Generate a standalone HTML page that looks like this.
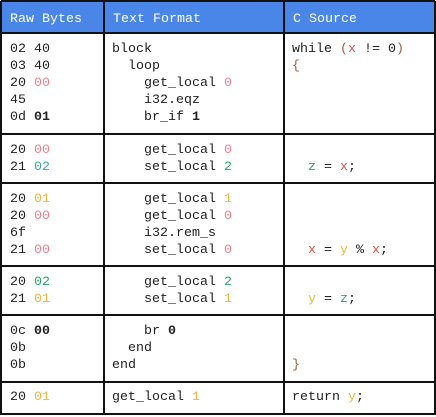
<!DOCTYPE html>
<html><head><style>
body{margin:0;width:436px;height:417px;background:#fff;position:relative;overflow:hidden;font-family:"Liberation Mono",monospace;font-size:13.33px;color:#222}
.h{position:absolute;left:1px;top:1px;width:434px;height:32px;background:#4a86e8}
.hl{position:absolute;left:1px;width:434px;height:2px;background:#111}
.vl{position:absolute;top:1px;width:2px;height:414px;background:#111}
.t{position:absolute;line-height:17px;white-space:pre}
.w{color:#fff}
.r{color:#e0524a}.p{color:#ee7f8f}.o{color:#f3b53a}.g{color:#2aa56e}.c{color:#3aa9a0}.b{font-weight:bold}.u{color:#a0603a}
</style></head><body>
<div class="h"></div>
<div class="hl" style="top:0"></div>
<div class="hl" style="top:32px"></div>
<div class="hl" style="top:133px"></div>
<div class="hl" style="top:182px"></div>
<div class="hl" style="top:265px"></div>
<div class="hl" style="top:314px"></div>
<div class="hl" style="top:381px"></div>
<div class="hl" style="top:413px"></div>
<div class="vl" style="left:0"></div>
<div class="vl" style="left:103px"></div>
<div class="vl" style="left:283px"></div>
<div class="vl" style="left:434px"></div>

<div class="t w" style="left:10px;top:11px">Raw Bytes</div>
<div class="t w" style="left:113px;top:11px">Text Format</div>
<div class="t w" style="left:293px;top:11px">C Source</div>

<div class="t" style="left:10px;top:41px">02 40
03 40
20 <span class="p">00</span>
45
0d <b>01</b></div>
<div class="t" style="left:112px;top:41px">block
  loop
    get_local <span class="p">0</span>
    i32.eqz
    br_if <b>1</b></div>
<div class="t" style="left:292px;top:41px">while <span class="u">(</span><span class="r">x</span> != 0<span class="u">)</span>
<span class="u">{</span></div>

<div class="t" style="left:10px;top:142px">20 <span class="p">00</span>
21 <span class="c">02</span></div>
<div class="t" style="left:112px;top:142px">    get_local <span class="p">0</span>
    set_local <span class="g">2</span></div>
<div class="t" style="left:292px;top:142px">
  <span class="g">z</span> = <span class="r">x</span>;</div>

<div class="t" style="left:10px;top:191px">20 <span class="o">01</span>
20 <span class="p">00</span>
6f
21 <span class="p">00</span></div>
<div class="t" style="left:112px;top:191px">    get_local <span class="o">1</span>
    get_local <span class="p">0</span>
    i32.rem_s
    set_local <span class="p">0</span></div>
<div class="t" style="left:292px;top:191px">


  <span class="r">x</span> = <span class="o">y</span> % <span class="r">x</span>;</div>

<div class="t" style="left:10px;top:274px">20 <span class="g">02</span>
21 <span class="o">01</span></div>
<div class="t" style="left:112px;top:274px">    get_local <span class="g">2</span>
    set_local <span class="o">1</span></div>
<div class="t" style="left:292px;top:274px">
  <span class="o">y</span> = <span class="g">z</span>;</div>

<div class="t" style="left:10px;top:323px">0c <b>00</b>
0b
0b</div>
<div class="t" style="left:112px;top:323px">    br <b>0</b>
  end
end</div>
<div class="t" style="left:292px;top:323px">

<span class="u">}</span></div>

<div class="t" style="left:10px;top:389px">20 <span class="o">01</span></div>
<div class="t" style="left:112px;top:389px">get_local <span class="o">1</span></div>
<div class="t" style="left:292px;top:389px">return <span class="o">y</span>;</div>
</body></html>
